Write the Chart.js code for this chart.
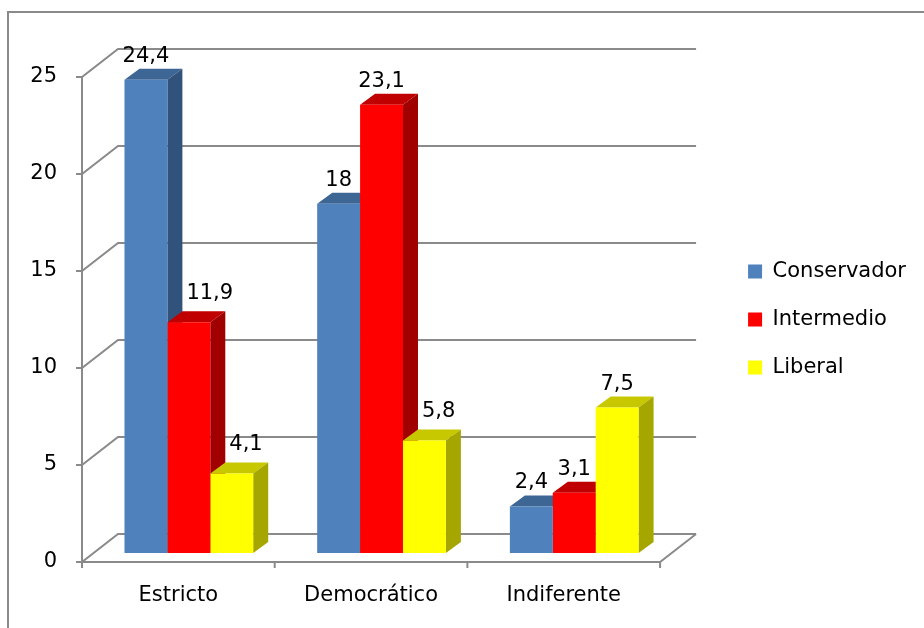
<!DOCTYPE html>
<html>
<head>
<meta charset="utf-8">
<script src="https://cdn.jsdelivr.net/npm/chart.js@4.4.0/dist/chart.umd.min.js"></script>
<style>
body { margin: 0; background: #fff; }
</style>
</head>
<body>
<canvas id="myChart" width="924" height="628"></canvas>
<script>
var categories = ['Estricto', 'Democrático', 'Indiferente'];
var seriesNames = ['Conservador', 'Intermedio', 'Liberal'];
var conservador = [24.4, 18, 2.4];
var intermedio = [11.9, 23.1, 3.1];
var liberal = [4.1, 5.8, 7.5];
var yTicks = [0, 5, 10, 15, 20, 25];

var frontColors = ['#4F81BD', '#FF0000', '#FFFF00'];
var topColors = ['#3D6695', '#C00000', '#C8C800'];
var sideColors = ['#31527B', '#A00000', '#A6A600'];

// 3d look
var barShift = {x: 10.5, y: -9};
var barDepth = {x: 15, y: -11};
var wallDepth = {x: 36, y: -28};
var lineColor = '#8a8a8a';
var fontFamily = '"DejaVu Sans", sans-serif';
var fontSize = 21;

function formatNum(v) {
    return String(v).replace('.', ',');
}

var threeD = {
    id: 'threeD',
    beforeDraw: function (chart) {
        var ctx = chart.ctx;
        ctx.save();
        ctx.fillStyle = '#fff';
        ctx.fillRect(0, 0, chart.width, chart.height);
        ctx.strokeStyle = lineColor;
        ctx.lineWidth = 2;
        ctx.strokeRect(8, 12, chart.width + 20, chart.height + 20);
        ctx.restore();
    },
    beforeDatasetsDraw: function (chart) {
        var ctx = chart.ctx;
        var area = chart.chartArea;
        var y = chart.scales.y;

        // walls, floor and axis lines
        ctx.save();
        ctx.strokeStyle = lineColor;
        ctx.lineWidth = 2;
        ctx.beginPath();
        yTicks.forEach(function (v) {
            var py = y.getPixelForValue(v);
            ctx.moveTo(area.left - 6, py);
            ctx.lineTo(area.left, py);
            ctx.lineTo(area.left + wallDepth.x, py + wallDepth.y);
            ctx.lineTo(area.right + wallDepth.x, py + wallDepth.y);
        });
        ctx.moveTo(area.left, y.getPixelForValue(yTicks[yTicks.length - 1]));
        ctx.lineTo(area.left, area.bottom);
        ctx.lineTo(area.right, area.bottom);
        ctx.lineTo(area.right + wallDepth.x, area.bottom + wallDepth.y);
        var w = (area.right - area.left) / categories.length;
        for (var i = 0; i <= categories.length; i++) {
            var px = area.left + i * w;
            ctx.moveTo(px, area.bottom);
            ctx.lineTo(px, area.bottom + 6);
        }
        ctx.stroke();
        ctx.restore();

        // bars are pushed back a bit, fronts are drawn by chart.js after this
        ctx.save();
        ctx.translate(barShift.x, barShift.y);

        for (var j = 0; j < categories.length; j++) {
            chart.data.datasets.forEach(function (ds, k) {
                var bar = chart.getDatasetMeta(k).data[j];
                var l = bar.x - bar.width / 2;
                var r = bar.x + bar.width / 2;
                var t = bar.y;
                var b = bar.base;
                ctx.fillStyle = topColors[k];
                ctx.beginPath();
                ctx.moveTo(l, t);
                ctx.lineTo(r, t);
                ctx.lineTo(r + barDepth.x, t + barDepth.y);
                ctx.lineTo(l + barDepth.x, t + barDepth.y);
                ctx.closePath();
                ctx.fill();
                ctx.fillStyle = sideColors[k];
                ctx.beginPath();
                ctx.moveTo(r, t);
                ctx.lineTo(r + barDepth.x, t + barDepth.y);
                ctx.lineTo(r + barDepth.x, b + barDepth.y);
                ctx.lineTo(r, b);
                ctx.closePath();
                ctx.fill();
            });
        }
    },
    afterDatasetsDraw: function (chart) {
        var ctx = chart.ctx;
        ctx.fillStyle = '#000';
        ctx.font = fontSize + 'px ' + fontFamily;
        ctx.textBaseline = 'alphabetic';
        chart.data.datasets.forEach(function (ds, i) {
            chart.getDatasetMeta(i).data.forEach(function (bar, j) {
                var base = bar.y + barDepth.y - 7;
                var prev = i > 0 ? chart.getDatasetMeta(i - 1).data[j] : null;
                if (prev && prev.y + barDepth.y < base) {
                    // label would sit on the taller bar to the left, move it off
                    ctx.textAlign = 'left';
                    ctx.fillText(formatNum(ds.data[j]), prev.x + prev.width / 2 + barDepth.x + 4, bar.y + barDepth.y - 12);
                } else {
                    ctx.textAlign = 'center';
                    ctx.fillText(formatNum(ds.data[j]), bar.x, base);
                }
            });
        });
        ctx.restore();
    }
};

Chart.defaults.font.family = fontFamily;
Chart.defaults.font.size = fontSize;
Chart.defaults.color = '#000';

var ctx = document.getElementById('myChart');
var myChart = new Chart(ctx, {
    type: 'bar',
    data: {
        labels: categories,
        datasets: [
            {label: seriesNames[0], data: conservador, backgroundColor: frontColors[0], borderWidth: 0, clip: false},
            {label: seriesNames[1], data: intermedio, backgroundColor: frontColors[1], borderWidth: 0, clip: false},
            {label: seriesNames[2], data: liberal, backgroundColor: frontColors[2], borderWidth: 0, clip: false}
        ]
    },
    options: {
        responsive: false,
        devicePixelRatio: 1,
        animation: false,
        events: [],
        categoryPercentage: 0.668,
        barPercentage: 1,
        layout: {padding: {left: 20, top: 77, right: 8, bottom: 0}},
        scales: {
            x: {
                grid: {display: false, drawTicks: false},
                border: {display: false},
                ticks: {padding: 21},
                afterFit: function (s) { s.height = 66; }
            },
            y: {
                min: 0,
                max: 25,
                grid: {display: false, drawTicks: false},
                border: {display: false},
                ticks: {stepSize: 5, padding: 25},
                afterFit: function (s) { s.width = 62; }
            },
            y2: {
                position: 'right',
                grid: {display: false, drawTicks: false},
                border: {display: false},
                ticks: {display: false},
                afterFit: function (s) { s.width = 61; }
            }
        },
        plugins: {
            legend: {
                position: 'right',
                fullSize: false,
                maxWidth: 320,
                labels: {boxWidth: 14, boxHeight: 14, padding: 27, color: '#000'}
            },
            tooltip: {enabled: false}
        }
    },
    plugins: [threeD]
});
</script>
</body>
</html>
